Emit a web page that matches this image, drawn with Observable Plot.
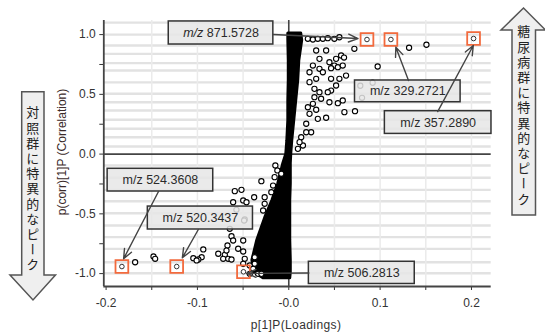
<!DOCTYPE html>
<html><head><meta charset="utf-8">
<script src="https://cdn.jsdelivr.net/npm/d3@7"></script>
<script src="https://cdn.jsdelivr.net/npm/@observablehq/plot@0.6"></script>
<style>
body{margin:0;background:#fff;}
#chart{position:relative;width:545px;height:333px;}
</style>
</head><body><div id="chart"></div>
<script>
// Dense S-shaped cloud of loadings (outline)
const massY     = [1.01, 0.95, 0.78, 0.62, 0.45, 0.28, 0.11, 0.0, -0.08, -0.25, -0.39, -0.53, -0.72, -0.89, -0.99, -1.04];
const massLeft  = [-0.0005, -0.0005, 0.0, 0.0, -0.0005, -0.0005, -0.0016, -0.0027, -0.006, -0.0115, -0.018, -0.0256, -0.0344, -0.0398, -0.0376, -0.0278];
const massRight = [0.0136, 0.0147, 0.0115, 0.0104, 0.0082, 0.006, 0.0038, 0.0027, 0.0022, 0.0022, 0.0016, 0.0016, 0.0016, 0.0022, 0.0022, 0.0016];

// Scattered variables outside the dense cloud
const outlierX = [0.0209,0.0264,0.0318,0.0373,0.0427,0.0499,0.0554,0.0718,0.0409,0.0518,0.0573,0.0445,0.0499,0.0463,0.0537,0.0300,0.0336,0.0264,0.0336,0.0373,0.0591,0.0463,0.0518,0.0463,0.0554,0.0227,0.0300,0.0227,0.0281,0.0973,0.1317,0.1507,0.0605,0.0627,0.0591,0.0609,0.0725,0.0427,0.0445,0.0318,0.0409,0.0783,0.0918,0.0802,0.0537,0.0354,0.0300,0.0264,0.0191,0.0245,0.0191,0.0136,0.0155,0.0100,0.0118,0.0227,0.0209,0.0281,0.0336,
  -0.0147,-0.0125,-0.0300,-0.0518,-0.0591,-0.0379,-0.0499,-0.0463,-0.0609,-0.0264,-0.0264,-0.0573,-0.0281,-0.0172,-0.0191,-0.0155,-0.0082,-0.0482,-0.0627,-0.0609,-0.0499,-0.0671,-0.0554,-0.0936,-0.0954,-0.0990,-0.1045,-0.0772,-0.0700,-0.0718,-0.0663,-0.0627,-0.0682,-0.0499,-0.0482,-0.0499,-0.0427,-0.0390,-0.0427,-0.0336,-0.0300,-0.0373,-0.0373,-0.1682,-0.1481,-0.1463,-0.1009,-0.0489,-0.0646];
const outlierY = [0.965,0.959,0.965,0.965,0.970,0.965,0.978,0.881,0.867,0.797,0.825,0.769,0.741,0.719,0.727,0.867,0.797,0.741,0.714,0.685,0.741,0.630,0.574,0.532,0.630,0.685,0.630,0.602,0.546,0.733,0.890,0.915,0.808,0.657,0.449,0.351,0.359,0.518,0.434,0.295,0.304,0.572,0.597,0.471,0.426,0.463,0.371,0.421,0.254,0.183,0.183,0.141,0.072,0.044,0.100,0.337,0.392,0.476,0.518,
  -0.095,-0.137,-0.227,-0.299,-0.310,-0.361,-0.388,-0.403,-0.403,-0.361,-0.416,-0.466,-0.472,-0.263,-0.319,-0.193,-0.165,-0.547,-0.687,-0.723,-0.723,-0.765,-0.792,-0.798,-0.863,-0.882,-0.871,-0.834,-0.843,-0.876,-0.876,-0.882,-0.807,-0.815,-0.876,-0.918,-0.932,-0.960,-1.002,-1.002,-1.002,-0.918,-0.863,-0.905,-0.857,-0.876,-0.890,-0.556,-0.625];

// Highlighted peaks (orange squares)
const highlightX = [0.0856, 0.1118, 0.2023, -0.1827, -0.1227, -0.0496];
const highlightY = [0.959, 0.959, 0.967, -0.941, -0.941, -0.985];

// Annotation labels (boxes in data units) and their arrows
const labelText = ["m/z 871.5728", "m/z 329.2721", "m/z 357.2890", "m/z 524.3608", "m/z 520.3437", "m/z 506.2813"];
const boxX1 = [-0.1314, 0.0725, 0.1052, -0.1983, -0.1543, 0.0220];
const boxX2 = [-0.0169, 0.1881, 0.2219, -0.0827, -0.0392, 0.1379];
const boxY1 = [0.917, 0.434, 0.169, -0.313, -0.631, -1.087];
const boxY2 = [1.110, 0.616, 0.359, -0.123, -0.439, -0.901];
const arrowX1 = [-0.0169, 0.1311, 0.1630, -0.1426, -0.0990, 0.0220];
const arrowY1 = [1.001, 0.616, 0.356, -0.313, -0.631, -0.995];
const arrowX2 = [0.0758, 0.1172, 0.2020, -0.1808, -0.1165, -0.0463];
const arrowY2 = [0.967, 0.895, 0.909, -0.876, -0.868, -0.999];

// Axes
const xMajorTicks = [-0.2, -0.1, 0, 0.1, 0.2];
const xTickLabels = ["-0.2", "-0.1", "-0.0", "0.1", "0.2"];
const xMinorTicks = [-0.15, -0.05, 0.05, 0.15];
const yMajorTicks = [-1, -0.5, 0, 0.5, 1];
const yTickLabels = ["-1.0", "-0.5", "0.0", "0.5", "1.0"];
const yMinorTicks = [-0.75, -0.25, 0.25, 0.75];
const xGrid = [-0.15, -0.1, -0.05, 0.05, 0.1, 0.15, 0.2];
const yGrid = [1.1, 1.0, 0.909, 0.839, 0.761, 0.70, 0.60, 0.505, 0.434, 0.365, 0.287, 0.212, 0.141, 0.064,
               -0.096, -0.198, -0.299, -0.394, -0.495, -0.597, -0.695, -0.793, -0.905, -0.997];
const xLabel = "p[1]P(Loadings)";
const yLabel = "p(corr)[1]P (Correlation)";
const leftArrowText = "対照群に特異的なピーク";
const rightArrowText = "糖尿病群に特異的なピーク";

const xDomain = [-0.2025, 0.2216];
const yDomain = [-1.108, 1.118];

const mass = massY.map((y, i) => ({y, l: massLeft[i], r: massRight[i]}));
const outliers = outlierX.map((x, i) => ({x, y: outlierY[i]}));
const highlights = highlightX.map((x, i) => ({x, y: highlightY[i]}));
const labels = labelText.map((t, i) => ({t, x1: boxX1[i], x2: boxX2[i], y1: boxY1[i], y2: boxY2[i],
  cx: (boxX1[i] + boxX2[i]) / 2, cy: (boxY1[i] + boxY2[i]) / 2}));
const arrows = arrowX1.map((x1, i) => ({x1, y1: arrowY1[i], x2: arrowX2[i], y2: arrowY2[i]}));

const fmt = (vals, labs) => d => { const i = vals.findIndex(v => Math.abs(v - d) < 1e-9); return i < 0 ? "" : labs[i]; };

const chart = Plot.plot({
  width: 545, height: 333,
  marginLeft: 103.3, marginRight: 54.3, marginTop: 20, marginBottom: 47,
  style: {fontFamily: "'Liberation Sans', Arial, sans-serif", fontSize: "12px", color: "#333", background: "#fff", overflow: "visible"},
  x: {domain: xDomain, ticks: [...xMajorTicks, ...xMinorTicks], tickFormat: fmt(xMajorTicks, xTickLabels), tickSize: 4, tickPadding: 8, label: null},
  y: {domain: yDomain, ticks: [...yMajorTicks, ...yMinorTicks], tickFormat: fmt(yMajorTicks, yTickLabels), tickSize: 4, tickPadding: 4, label: null},
  marks: [
    Plot.ruleY(yGrid, {stroke: "#e2e2e2", strokeWidth: 2.4}),
    Plot.ruleX(xGrid, {stroke: "#ebebeb", strokeWidth: 1.5}),
    Plot.ruleY([0], {stroke: "#444", strokeWidth: 1.6}),
    Plot.ruleX([0], {stroke: "#444", strokeWidth: 1.6}),
    Plot.ruleX([xDomain[0]], {stroke: "#444", strokeWidth: 1.8}),
    Plot.ruleY([yDomain[0]], {stroke: "#444", strokeWidth: 1.8}),
    Plot.areaX(mass, {y: "y", x1: "l", x2: "r", fill: "#000", stroke: "#000", strokeWidth: 3}),
    Plot.dot(outliers, {x: "x", y: "y", r: 2.6, stroke: "#000", fill: "#fff", strokeWidth: 1.1}),
    Plot.dot(highlights, {x: "x", y: "y", r: 2.3, stroke: "#333", fill: "#fff", strokeWidth: 1}),
    Plot.dot(highlights, {x: "x", y: "y", symbol: "square", r: 7.2, stroke: "#f26a3d", fill: "none", strokeWidth: 1.8}),
    Plot.rect(labels, {x1: "x1", x2: "x2", y1: "y1", y2: "y2", fill: "#e6e6e6", fillOpacity: 0.85, stroke: "#333", strokeWidth: 1.5}),
    Plot.arrow(arrows, {x1: "x1", y1: "y1", x2: "x2", y2: "y2", stroke: "#444", strokeWidth: 1.4, headLength: 11, headAngle: 45}),
    Plot.text(labels, {x: "cx", y: "cy", text: "t", fill: "#2a2a2a", fontSize: 12.5})
  ]
});

const svg = d3.select(chart);
// italic m/z for the first label
svg.selectAll("text").filter(function(){ return this.textContent === labelText[0]; }).each(function(){
  const t = d3.select(this); t.text("");
  t.append("tspan").attr("font-style", "italic").text("m/z");
  t.append("tspan").text(labelText[0].slice(3));
});

// axis titles
svg.append("text").attr("x", 296).attr("y", 329).attr("text-anchor", "middle")
  .attr("font-size", 12).attr("fill", "#333").attr("letter-spacing", 0.4).text(xLabel);
svg.append("text").attr("transform", "translate(66,152) rotate(-90)").attr("text-anchor", "middle")
  .attr("font-size", 12).attr("fill", "#3a2a2a").text(yLabel);

// side block arrows
const g = svg.append("g").attr("fill", "#efefef").attr("stroke", "#555").attr("stroke-width", 1.5);
g.append("path").attr("d", "M21.7,91.7 H44 V275 H55.5 L33,300 L10,275 H21.7 Z");
g.append("path").attr("d", "M512,215 V30 H501 L523.5,8 L545.5,30 H535.5 V215 Z");
const vt = (x, y, s) => svg.append("text").attr("x", x).attr("y", y).attr("text-anchor", "start")
  .attr("font-family", "'Noto Sans CJK JP', sans-serif").attr("font-size", 13).attr("fill", "#222")
  .style("writing-mode", "vertical-rl").style("text-orientation", "upright")
  .attr("letter-spacing", 2.2).text(s);
vt(32.8, 106, leftArrowText);
vt(523.8, 25, rightArrowText);

document.getElementById("chart").appendChild(chart);
</script>
</body></html>
